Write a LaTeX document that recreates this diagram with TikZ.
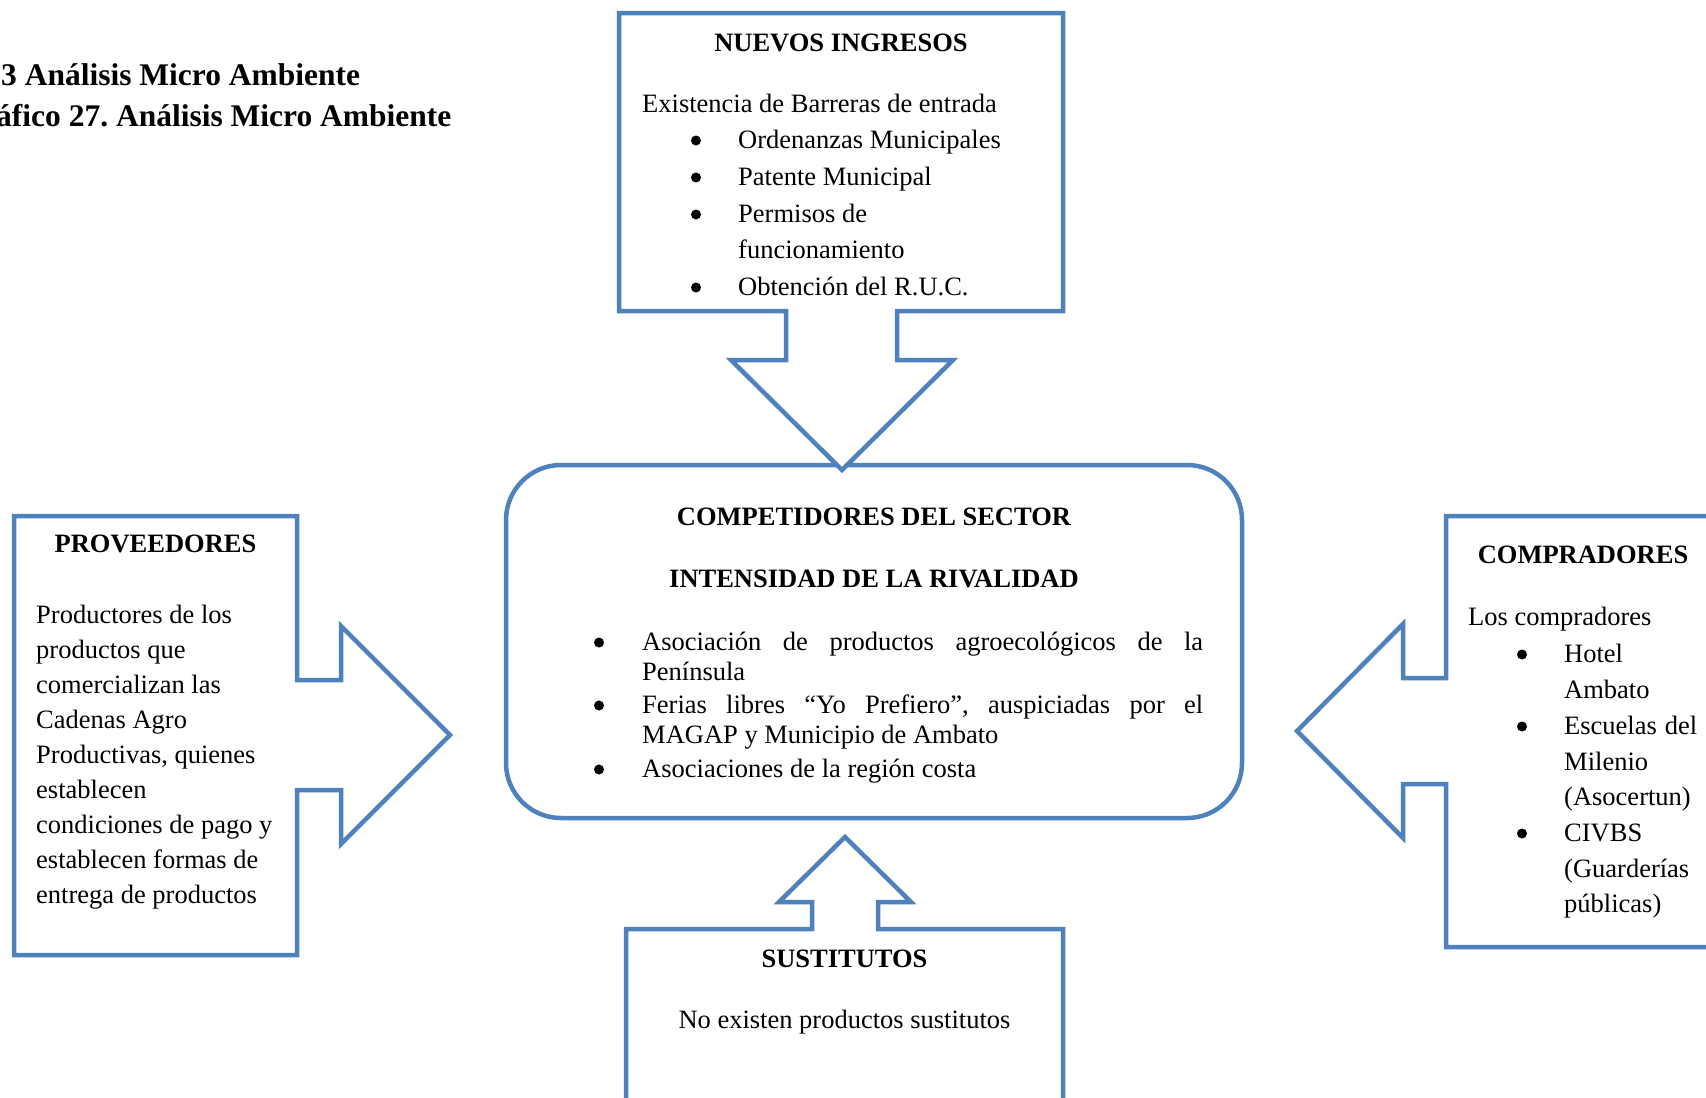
\documentclass[tikz,border=0pt]{standalone}
\usepackage{fontspec}
\setmainfont{Liberation Serif}
\frenchspacing
\definecolor{wordblue}{HTML}{4F81BD}
\begin{document}
\begin{tikzpicture}[x=1pt,y=-1pt,
  callout/.style={draw=wordblue, line width=4.5pt, fill=white, line join=miter},
  body/.style={anchor=base west, inner sep=0pt, font=\fontsize{26.5}{30}\selectfont},
  heading/.style={anchor=base, inner sep=0pt, font=\fontsize{26.5}{30}\selectfont\bfseries},
  titletext/.style={anchor=base west, inner sep=0pt, font=\fontsize{31.5}{36}\selectfont\bfseries},
  bulletdot/.style={fill=black}]
\useasboundingbox (0,0) rectangle (1706,1098);
\fill[white] (0,0) rectangle (1706,1098);
\clip (0,0) rectangle (1706,1098);

% page title
\node[titletext] (title1) at (1,85) {3 Análisis Micro Ambiente};
\node[titletext] (title2) at (-4,126) {áfico 27. Análisis Micro Ambiente};

% central rounded box
\draw[draw=wordblue, line width=4.5pt, rounded corners=55pt] (506,465) rectangle (1242,818);

% top callout, arrow pointing down
\draw[callout] (619,13) -- (1063,13) -- (1063,311) -- (897,311) -- (897,360) -- (953,360)
  -- (842,470) -- (731,360) -- (786,360) -- (786,311) -- (619,311) -- cycle;

% left callout, arrow pointing right
\draw[callout] (14,516) -- (297,516) -- (297,680) -- (341,680) -- (341,626) -- (450,735)
  -- (341,844) -- (341,790) -- (297,790) -- (297,955) -- (14,955) -- cycle;

% right callout, arrow pointing left
\draw[callout] (1446,516) -- (1446,678) -- (1403,678) -- (1403,624) -- (1297,731)
  -- (1403,838) -- (1403,784) -- (1446,784) -- (1446,947) -- (1730,947) -- (1730,516) -- cycle;

% bottom callout, arrow pointing up
\draw[callout] (626,929) -- (812,929) -- (812,902) -- (779,902) -- (845,837) -- (911,902)
  -- (878,902) -- (878,929) -- (1063,929) -- (1063,1140) -- (626,1140) -- cycle;

% NUEVOS INGRESOS
\node[heading] (nhead) at (841,51) {NUEVOS INGRESOS};
\node[body] (n0) at (642,112) {Existencia de Barreras de entrada};
\node[body] (n1) at (738,148) {Ordenanzas Municipales};
\node[body] (n2) at (738,185) {Patente Municipal};
\node[body] (n3) at (738,222) {Permisos de};
\node[body] (n4) at (738,258) {funcionamiento};
\node[body] (n5) at (738,295) {Obtención del R.U.C.};
\foreach \yy in {148,185,222,295} \fill[bulletdot] (696,\yy-7.5) circle[radius=5pt];

% PROVEEDORES
\node[heading] (phead) at (155.5,552) {PROVEEDORES};
\foreach \txt [count=\i from 0] in {Productores de los, productos que, comercializan las,
  Cadenas Agro, {Productivas, quienes}, establecen, condiciones de pago y,
  establecen formas de, entrega de productos}
  \node[body] (p\i) at (36,623+35.1*\i) {\txt};

% COMPRADORES
\node[heading] (chead) at (1583,563) {COMPRADORES};
\node[body] (c0) at (1468,625) {Los compradores};
\node[body] (c1) at (1564,662) {Hotel};
\node[body] (c2) at (1564,698) {Ambato};
\node[body] (c3) at (1564,734) {\makebox[133pt][s]{Escuelas del}};
\node[body] (c4) at (1564,770) {Milenio};
\node[body] (c5) at (1564,805) {(Asocertun)};
\node[body] (c6) at (1564,841) {CIVBS};
\node[body] (c7) at (1564,877) {(Guarderías};
\node[body] (c8) at (1564,912) {públicas)};
\foreach \yy in {662,734,841} \fill[bulletdot] (1522,\yy-7.5) circle[radius=5pt];

% COMPETIDORES DEL SECTOR
\node[heading] (khead1) at (874,525) {COMPETIDORES DEL SECTOR};
\node[heading] (khead2) at (874,587) {INTENSIDAD DE LA RIVALIDAD};
\node[body] (k1) at (642,650) {\makebox[561pt][s]{Asociación de productos agroecológicos de la}};
\node[body] (k2) at (642,680) {Península};
\node[body] (k3) at (642,713) {\makebox[561pt][s]{Ferias libres “Yo Prefiero”, auspiciadas por el}};
\node[body] (k4) at (642,743) {MAGAP y Municipio de Ambato};
\node[body] (k5) at (642,777) {Asociaciones de la región costa};
\foreach \yy in {650,713,777} \fill[bulletdot] (599,\yy-7.5) circle[radius=5pt];

% SUSTITUTOS
\node[heading] (shead) at (844.5,967) {SUSTITUTOS};
\node[body, anchor=base] (s1) at (844.5,1028) {No existen productos sustitutos};
\end{tikzpicture}
\end{document}
